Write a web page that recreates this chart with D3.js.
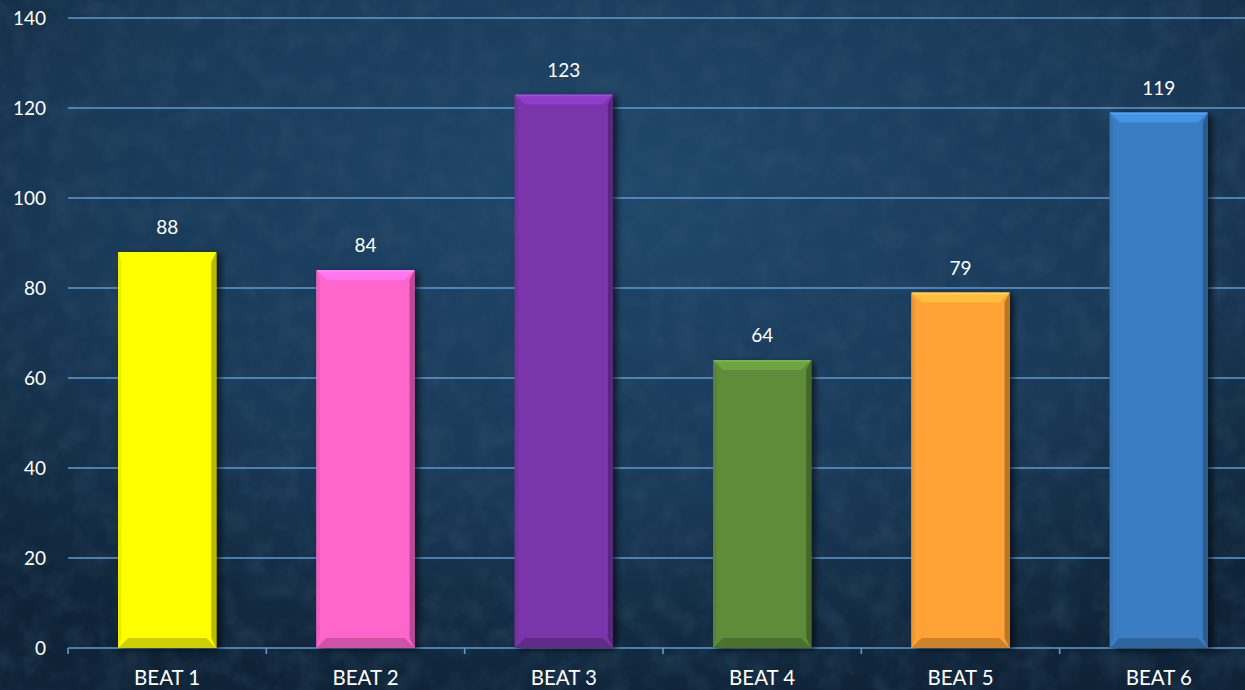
<!DOCTYPE html>
<html>
<head>
<meta charset="utf-8">
<script src="https://cdn.jsdelivr.net/npm/d3@7"></script>
<style>
  html, body { margin: 0; padding: 0; background: #163350; }
  svg { display: block; }
  text { font-family: Lato, "Noto Sans", sans-serif; fill: #ffffff; }
</style>
</head>
<body>
<script>
// chart data
var categories = ["BEAT 1", "BEAT 2", "BEAT 3", "BEAT 4", "BEAT 5", "BEAT 6"];
var values = [88, 84, 123, 64, 79, 119];
var barColors = ["#ffff00", "#ff66cc", "#7a35aa", "#5e8c39", "#ffa235", "#3a7dc2"];
var yTicks = [0, 20, 40, 60, 80, 100, 120, 140];

var width = 1245;
var height = 690;
var margin = { top: 18, right: -13, bottom: 42, left: 68 };

var svg = d3.select("body")
  .append("svg")
  .attr("width", width)
  .attr("height", height);

var defs = svg.append("defs");

// background: dark navy with a soft glow and a bit of texture
var bg = defs.append("radialGradient")
  .attr("id", "bgGrad")
  .attr("cx", "50%").attr("cy", "28%").attr("r", "75%");
bg.append("stop").attr("offset", "0%").attr("stop-color", "#20476a");
bg.append("stop").attr("offset", "60%").attr("stop-color", "#193957");
bg.append("stop").attr("offset", "100%").attr("stop-color", "#0f2336");

var tex = defs.append("filter").attr("id", "texture")
  .attr("x", 0).attr("y", 0).attr("width", "100%").attr("height", "100%");
tex.append("feTurbulence")
  .attr("type", "fractalNoise")
  .attr("baseFrequency", "0.04")
  .attr("numOctaves", 3)
  .attr("seed", 7);
tex.append("feColorMatrix")
  .attr("type", "matrix")
  .attr("values", "0 0 0 0 0.04  0 0 0 0 0.1  0 0 0 0 0.17  0 0 0 -1 0.6");

svg.append("rect")
  .attr("width", width).attr("height", height)
  .attr("fill", "url(#bgGrad)");
svg.append("rect")
  .attr("width", width).attr("height", height)
  .attr("filter", "url(#texture)")
  .attr("opacity", 0.65);

var innerW = width - margin.left - margin.right;
var innerH = height - margin.top - margin.bottom;

var x = d3.scaleBand()
  .domain(categories)
  .range([margin.left, margin.left + innerW])
  .paddingInner(0.505)
  .paddingOuter(0.2525);

var y = d3.scaleLinear()
  .domain([0, 140])
  .range([margin.top + innerH, margin.top]);

// gridlines
svg.append("g")
  .selectAll("line")
  .data(yTicks.filter(function (d) { return d > 0; }))
  .enter()
  .append("line")
  .attr("x1", margin.left)
  .attr("x2", width)
  .attr("y1", function (d) { return y(d); })
  .attr("y2", function (d) { return y(d); })
  .style("stroke", "#5c9bd2")
  .style("stroke-width", 1.6);

// y labels
svg.append("g")
  .selectAll("text")
  .data(yTicks)
  .enter()
  .append("text")
  .attr("x", 46)
  .attr("y", function (d) { return y(d); })
  .attr("dy", "0.35em")
  .attr("text-anchor", "end")
  .style("font-size", "19px")
  .text(function (d) { return d; });

// x axis line with ticks between categories
var step = x.step();
var tickXs = categories.map(function (c) { return x(c) + x.bandwidth() / 2 - step / 2; });
tickXs.push(x(categories[categories.length - 1]) + x.bandwidth() / 2 + step / 2);

var axis = svg.append("g");
axis.append("line")
  .attr("x1", margin.left).attr("x2", width)
  .attr("y1", y(0)).attr("y2", y(0))
  .style("stroke", "#5c9bd2")
  .style("stroke-width", 1.6);
axis.selectAll("line.tick")
  .data(tickXs)
  .enter()
  .append("line")
  .attr("class", "tick")
  .attr("x1", function (d) { return d; })
  .attr("x2", function (d) { return d; })
  .attr("y1", y(0))
  .attr("y2", y(0) + 6)
  .style("stroke", "#5c9bd2")
  .style("stroke-width", 1.6);

axis.selectAll("text")
  .data(categories)
  .enter()
  .append("text")
  .attr("x", function (d) { return x(d) + x.bandwidth() / 2; })
  .attr("y", y(0) + 37)
  .attr("text-anchor", "middle")
  .style("font-size", "20.5px")
  .text(function (d) { return d; });

// drop shadow for bars
var sh = defs.append("filter").attr("id", "shadow")
  .attr("x", "-20%").attr("y", "-10%").attr("width", "150%").attr("height", "120%");
sh.append("feGaussianBlur").attr("in", "SourceAlpha").attr("stdDeviation", 3);
sh.append("feOffset").attr("dx", 4).attr("dy", 2).attr("result", "blur");
sh.append("feComponentTransfer").append("feFuncA").attr("type", "linear").attr("slope", 0.6);
var merge = sh.append("feMerge");
merge.append("feMergeNode");
merge.append("feMergeNode").attr("in", "SourceGraphic");

// bevelled bars
var bevel = 10;
var bars = svg.append("g")
  .selectAll("g")
  .data(values)
  .enter()
  .append("g")
  .attr("filter", "url(#shadow)");

bars.each(function (v, i) {
  var g = d3.select(this);
  var x0 = x(categories[i]);
  var x1 = x0 + x.bandwidth();
  var y0 = y(v);
  var y1 = y(0);
  var c = d3.color(barColors[i]);
  var b = Math.min(bevel, (y1 - y0) / 2);

  g.append("rect")
    .attr("x", x0).attr("y", y0)
    .attr("width", x1 - x0).attr("height", y1 - y0)
    .attr("fill", c.formatHex());
  // top facet (lighter)
  g.append("polygon")
    .attr("points", [[x0, y0], [x1, y0], [x1 - b, y0 + b], [x0 + b, y0 + b]].join(" "))
    .attr("fill", c.brighter(0.45).formatHex());
  // left facet
  g.append("polygon")
    .attr("points", [[x0, y0], [x0 + b * 0.35, y0 + b], [x0 + b * 0.35, y1 - b], [x0, y1]].join(" "))
    .attr("fill", c.darker(0.2).formatHex());
  // right facet (darker)
  g.append("polygon")
    .attr("points", [[x1, y0], [x1 - b * 0.5, y0 + b], [x1 - b * 0.5, y1 - b], [x1, y1]].join(" "))
    .attr("fill", c.darker(0.9).formatHex());
  // bottom facet
  g.append("polygon")
    .attr("points", [[x0, y1], [x0 + b, y1 - b], [x1 - b, y1 - b], [x1, y1]].join(" "))
    .attr("fill", c.darker(0.6).formatHex());
  // thin top highlight
  g.append("line")
    .attr("x1", x0 + 1).attr("x2", x1 - 1)
    .attr("y1", y0 + 1).attr("y2", y0 + 1)
    .style("stroke", c.brighter(0.8).formatHex())
    .style("stroke-width", 1.5);
});

// value labels
svg.append("g")
  .selectAll("text")
  .data(values)
  .enter()
  .append("text")
  .attr("x", function (d, i) { return x(categories[i]) + x.bandwidth() / 2; })
  .attr("y", function (d) { return y(d) - 18; })
  .attr("text-anchor", "middle")
  .style("font-size", "19px")
  .text(function (d) { return d; });
</script>
</body>
</html>
